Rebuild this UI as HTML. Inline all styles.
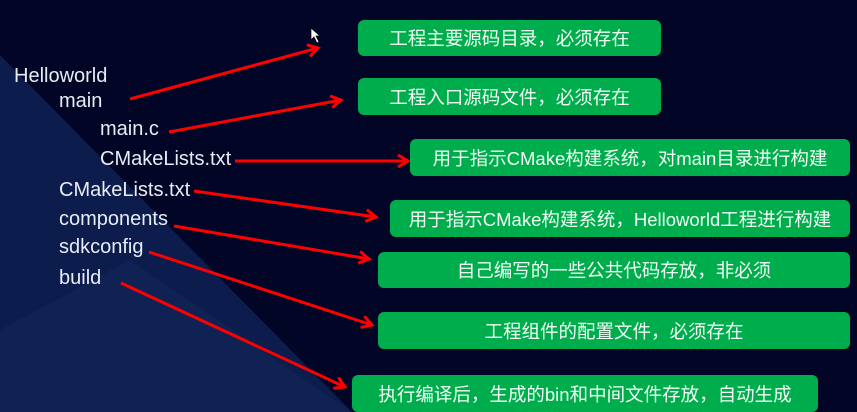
<!DOCTYPE html>
<html><head><meta charset="utf-8"><style>
html,body{margin:0;padding:0}
body{width:857px;height:412px;overflow:hidden;position:relative;background:#020526;font-family:"Liberation Sans","Noto Sans CJK SC",sans-serif}
.t{position:absolute;color:#e8ecf4;font-size:20px;line-height:22px;white-space:nowrap}
.b{position:absolute;background:#00ad4c;border-radius:6px;color:#f2fff6;font-size:18.5px;display:flex;align-items:center;justify-content:center;white-space:nowrap}
svg{position:absolute;left:0;top:0}
</style></head><body>
<svg width="857" height="412">
<polygon points="0,55 352,412 0,412" fill="#0c1c4c"/>
<polygon points="0,330 130,260 352,412 0,412" fill="#0f2253"/>
<defs><marker id="a" markerWidth="14" markerHeight="14" refX="11" refY="7" orient="auto" markerUnits="userSpaceOnUse"><path d="M1,1 L11,7 L1,13" fill="none" stroke="#f00" stroke-width="3"/></marker></defs>
<g stroke="#f00" stroke-width="3" fill="none" marker-end="url(#a)">
<line x1="130" y1="99" x2="318" y2="48"/>
<line x1="169" y1="132" x2="341" y2="100"/>
<line x1="235" y1="161" x2="408" y2="161"/>
<line x1="194" y1="191" x2="376" y2="217"/>
<line x1="174" y1="226" x2="369" y2="259"/>
<line x1="149" y1="252" x2="372" y2="325"/>
<line x1="121" y1="283" x2="345" y2="387"/>
</g>
<path d="M311,28 l0,12 l3,-3 l3,6 l2,-1 l-3,-6 l4,0 z" fill="#fff" stroke="#000" stroke-width="0.7"/>
</svg>
<div class="t" style="left:14px;top:65px">Helloworld</div>
<div class="t" style="left:59px;top:90px">main</div>
<div class="t" style="left:100px;top:118px">main.c</div>
<div class="t" style="left:100px;top:148px">CMakeLists.txt</div>
<div class="t" style="left:59px;top:179px">CMakeLists.txt</div>
<div class="t" style="left:59px;top:208px">components</div>
<div class="t" style="left:59px;top:236px">sdkconfig</div>
<div class="t" style="left:59px;top:267px">build</div>
<div class="b" style="left:358px;top:20px;width:303px;height:36px">工程主要源码目录，必须存在</div>
<div class="b" style="left:358px;top:78px;width:303px;height:37px">工程入口源码文件，必须存在</div>
<div class="b" style="left:410px;top:139px;width:440px;height:37px">用于指示CMake构建系统，对main目录进行构建</div>
<div class="b" style="left:390px;top:200px;width:460px;height:37px">用于指示CMake构建系统，Helloworld工程进行构建</div>
<div class="b" style="left:378px;top:252px;width:472px;height:36px">自己编写的一些公共代码存放，非必须</div>
<div class="b" style="left:378px;top:312px;width:472px;height:37px">工程组件的配置文件，必须存在</div>
<div class="b" style="left:352px;top:375px;width:466px;height:37px">执行编译后，生成的bin和中间文件存放，自动生成</div>
</body></html>
